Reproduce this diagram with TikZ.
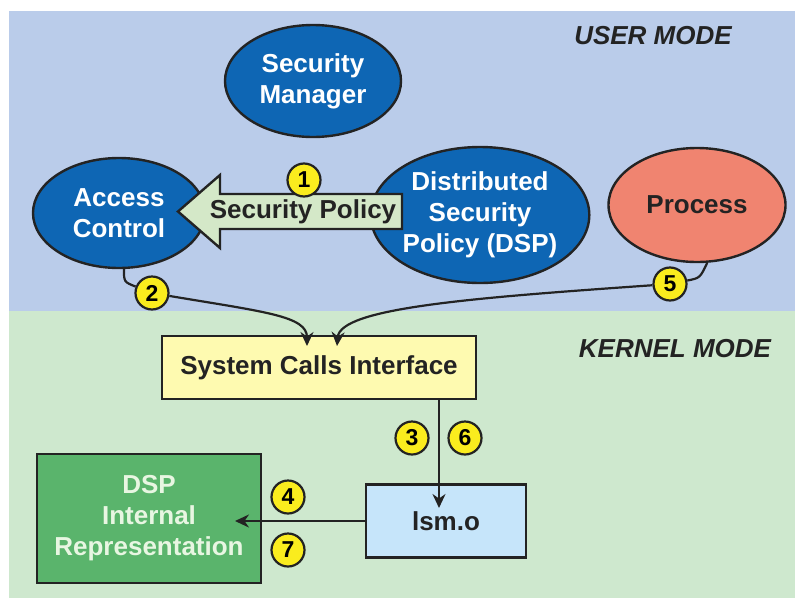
\documentclass[tikz,border=0pt]{standalone}
\usepackage{fontspec}
\setmainfont{Liberation Sans}
\usetikzlibrary{shapes.geometric,arrows.meta}

\definecolor{userbg}{RGB}{186,204,234}
\definecolor{kernelbg}{RGB}{206,232,206}
\definecolor{ovalblue}{RGB}{14,102,180}
\definecolor{procred}{RGB}{240,132,112}
\definecolor{policygreen}{RGB}{212,232,200}
\definecolor{scifill}{RGB}{254,250,176}
\definecolor{lsmfill}{RGB}{198,229,250}
\definecolor{dspfill}{RGB}{90,180,108}
\definecolor{dsptext}{RGB}{232,246,226}
\definecolor{numfill}{RGB}{250,236,30}
\definecolor{ink}{RGB}{35,35,35}

\tikzset{
  bigfont/.style={font=\fontsize{26}{31}\selectfont\bfseries},
  oval/.style={ellipse, draw=ink, line width=2.4pt, fill=ovalblue, text=white,
    inner sep=0pt, align=center, bigfont},
  box/.style={rectangle, draw=ink, line width=2.4pt, inner sep=0pt,
    align=center, text=ink, bigfont},
  numdot/.style={circle, draw=ink, line width=2.2pt, fill=numfill,
    minimum size=33pt, inner sep=0pt, font=\fontsize{23}{23}\selectfont\bfseries},
  conn/.style={draw=ink, line width=2.2pt},
  tip/.style={-{Stealth[length=14pt,width=13pt]}},
  modelabel/.style={text=ink, font=\fontsize{26}{26}\selectfont\bfseries\itshape}
}

\begin{document}
\begin{tikzpicture}[x=1pt,y=-1pt]
    \useasboundingbox (0,0) rectangle (795,600);
    \fill[userbg] (9,11) rectangle (795,311);
    \fill[kernelbg] (9,311) rectangle (795,598);
    \node[modelabel] (um) at (653,36) {USER MODE};
    \node[modelabel] (km) at (675,349) {KERNEL MODE};

    % user mode
    \node[oval, minimum width=176pt, minimum height=112pt] (sm) at (313,81) {Security\\Manager};
    \node[oval, minimum width=172pt, minimum height=110pt] (ac) at (119,213) {Access\\Control};
    \node[oval, minimum width=216pt, minimum height=136pt] (dsp) at (480,215) {Distributed\\Security\\Policy (DSP)};
    \node[oval, fill=procred, text=ink, minimum width=177pt, minimum height=114pt] (pr) at (697,205) {Process};
    \draw[ink, fill=policygreen, line width=2.4pt] (402,194) -- (220,194) -- (220,175) -- (178,211.5)
        -- (220,248) -- (220,229) -- (402,229) -- cycle;
    \node[text=ink, bigfont] (sptxt) at (303,212) {Security Policy};
    \node[numdot] (c1) at (304,180) {1};
    \node[numdot] (c2) at (152,293) {2};
    \node[numdot] (c5) at (670,284) {5};

    % kernel mode
    \node[box, fill=scifill, minimum width=314pt, minimum height=63pt] (sci) at (319,367.5) {System Calls Interface};
    \node[box, fill=lsmfill, minimum width=160pt, minimum height=73pt] (lsm) at (446,521) {lsm.o};
    \node[box, fill=dspfill, text=dsptext, minimum width=224pt, minimum height=129pt] (dspir) at (149,518.5) {DSP\\Internal\\Representation};
    \node[numdot] (c3) at (412,438) {3};
    \node[numdot] (c6) at (465,438) {6};
    \node[numdot] (c4) at (288,497) {4};
    \node[numdot] (c7) at (288,550) {7};

    \coordinate (sciin2) at (307,346);
    \coordinate (sciin5) at (337,346);
    \coordinate (lsmin) at (439,508);
    \coordinate (dspin) at (235,521);
    \draw[conn] (ac.-85) .. controls (124,282) .. (c2);
    \draw[conn,tip] (c2) .. controls (265,312) and (307,316) .. (sciin2);
    \draw[conn] (pr.-80) .. controls (700,278) .. (c5);
    \draw[conn,tip] (c5) .. controls (470,298) and (340,308) .. (sciin5);
    \draw[conn,tip] (sci.south -| lsmin) -- (lsmin);
    \draw[conn,tip] (lsm.west) -- (dspin);
\end{tikzpicture}
\end{document}
